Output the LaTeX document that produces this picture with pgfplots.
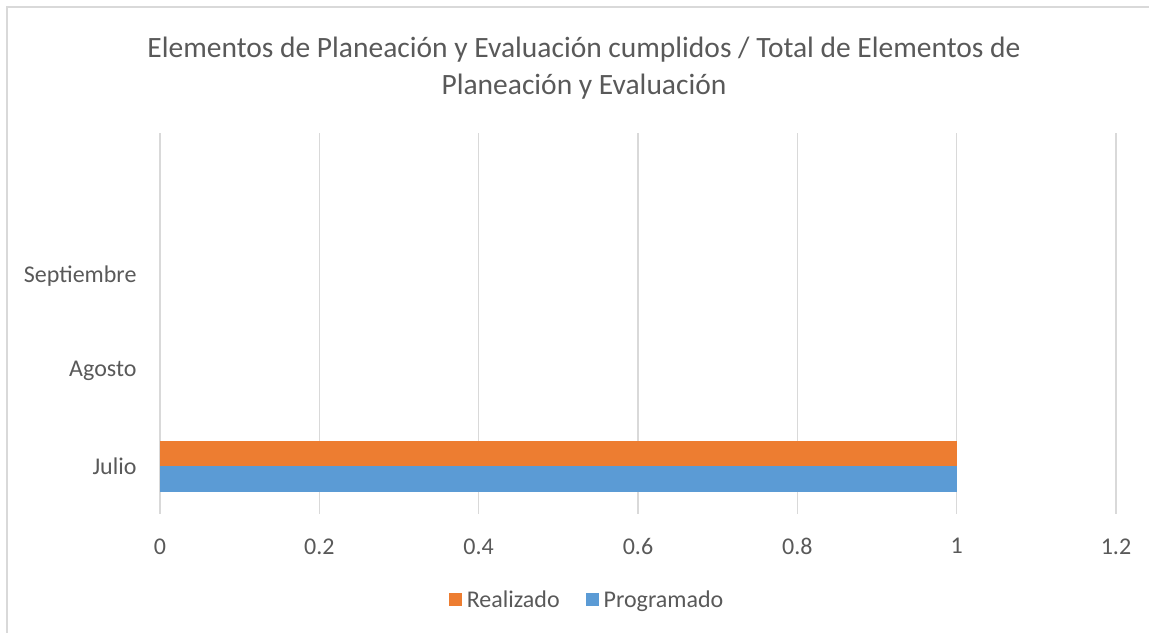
\documentclass[border=0pt]{standalone}
\usepackage{pgfplots}
\pgfplotsset{compat=1.18}
\usepackage{fontspec}
\setmainfont{Carlito}
\definecolor{txt}{HTML}{595959}
\definecolor{grd}{HTML}{D9D9D9}
\definecolor{realiz}{HTML}{ED7D31}
\definecolor{progr}{HTML}{5B9BD5}
\begin{document}
\begin{tikzpicture}[x=1bp,y=1bp]
\useasboundingbox (0,0) rectangle (1149,633);
% chart frame (runs off the right and bottom edges)
\draw[grd, line width=2bp] (7,0) -- (7,626) -- (1149,626);
% title
\node[txt, font=\fontsize{29.5bp}{34bp}\selectfont] at (584,583) {Elementos de Planeación y Evaluación cumplidos / Total de Elementos de};
\node[txt, font=\fontsize{29.5bp}{34bp}\selectfont] at (584,546) {Planeación y Evaluación};
\begin{axis}[
    at={(160bp,119bp)}, anchor=south west,
    width=956bp, height=381bp, scale only axis,
    xbar,
    bar width=25.5bp,
    xmin=0, xmax=1.2,
    ymin=0.5, ymax=4.5,
    xtick={0,0.2,...,1.2},
    ytick={1,2,3},
    yticklabels={Julio,Agosto,Septiembre},
    xticklabels={0,0.2,0.4,0.6,0.8,1,1.2},
    xmajorgrids,
    major grid style={grd, line width=1.2bp},
    axis x line*=bottom,
    axis y line*=left,
    x axis line style={draw=none},
    y axis line style={grd, line width=1.2bp, -},
    xticklabel style={txt, font=\fontsize{24bp}{28bp}\selectfont},
    yticklabel style={txt, font=\fontsize{24bp}{28bp}\selectfont},
    /pgf/number format/assume math mode=true,
    major tick length=0pt,
    every x tick label/.append style={yshift=-21bp},
    every y tick label/.append style={xshift=-20bp},
    legend style={
        at={(0.4467,-0.2257)}, anchor=center,
        legend columns=2, draw=none, fill=none,
        font=\fontsize{24bp}{28bp}\selectfont, text=txt,
        /tikz/every even column/.append style={column sep=24bp},
        legend cell align=left
    },
    legend image code/.code={\fill[#1] (0bp,-6.5bp) rectangle (13bp,6.5bp); \path (16bp,0bp);},
    reverse legend,
]
\addplot[draw=none, fill=progr, bar shift=-12.75bp] coordinates {(1,1)};
\addplot[draw=none, fill=realiz, bar shift=12.75bp] coordinates {(1,1)};
\legend{Programado, Realizado}
\end{axis}
\end{tikzpicture}
\end{document}
